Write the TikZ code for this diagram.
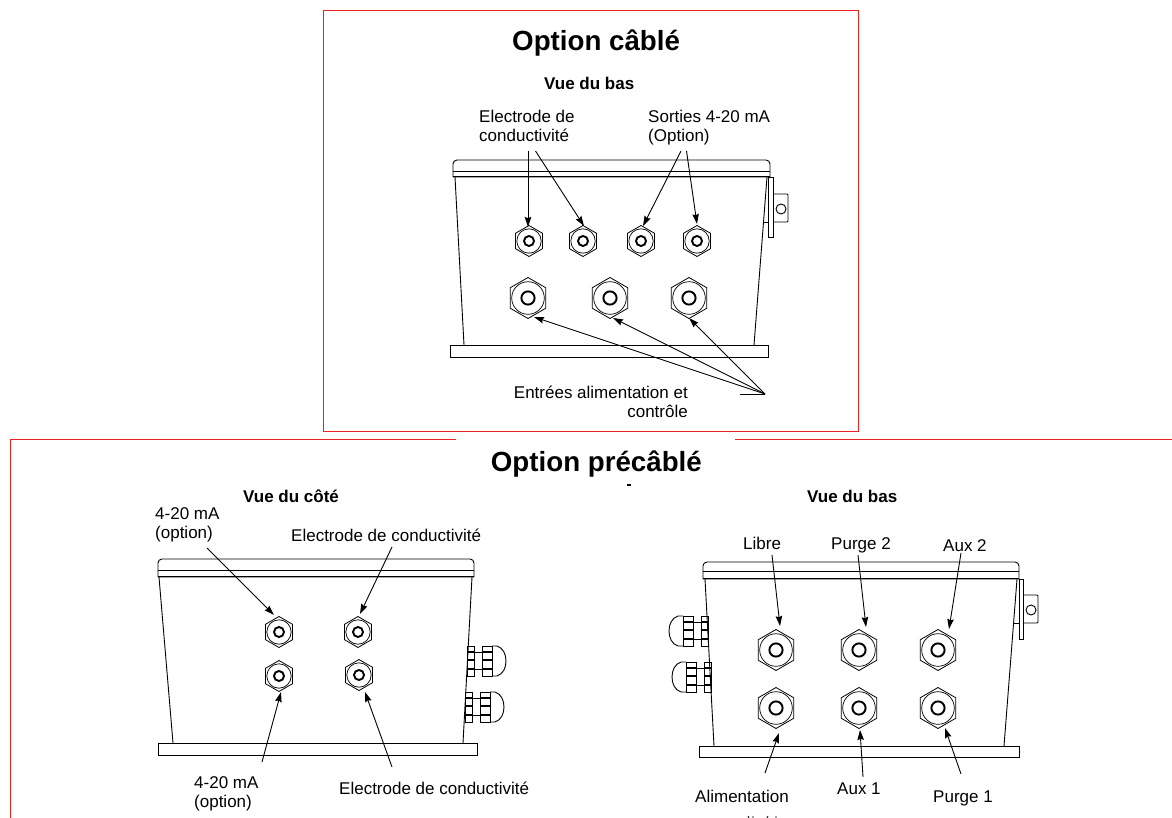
\documentclass[tikz,border=0pt]{standalone}
\usepackage{fontspec}
\setmainfont{Liberation Sans}
\usetikzlibrary{arrows.meta,shapes.geometric}
\definecolor{frameRed}{rgb}{0.93,0.13,0.13}
\tikzset{
  part/.style={draw=black,line width=0.9pt},
  frameline/.style={draw=frameRed,line width=1.1pt},
  arr/.style={draw=black,line width=0.9pt,-{Stealth[length=10pt,width=6.5pt,inset=1.2pt]}},
  lab/.style={inner sep=0pt,anchor=base west,font=\fontsize{17}{19}\selectfont,align=left},
  sub/.style={inner sep=0pt,anchor=base west,font=\fontsize{17}{19}\selectfont\bfseries},
  ttl/.style={inner sep=0pt,anchor=base west,font=\fontsize{27.7}{30}\selectfont\bfseries},
  glandS/.style={regular polygon,regular polygon sides=6,regular polygon rotate=30,draw=black,line width=0.8pt,minimum size=31pt,inner sep=0pt,
    path picture={
      \draw[line width=0.7pt] (path picture bounding box.center) circle (12.2pt);
      \draw[line width=1.9pt] (path picture bounding box.center) circle (5pt);}},
  glandB/.style={regular polygon,regular polygon sides=6,regular polygon rotate=30,draw=black,line width=0.8pt,minimum size=41pt,inner sep=0pt,
    path picture={
      \draw[line width=0.7pt] (path picture bounding box.center) circle (16.3pt);
      \draw[line width=1.9pt] (path picture bounding box.center) circle (6.6pt);}},
}
\newcommand{\cablegland}[3]{%
  \begin{scope}[shift={(#1,#2)},xscale=#3]
    \draw[part] (0,0) rectangle (7,30);
    \draw[part,line width=1.1pt] (0,6) -- (7,6) (0,14) -- (7,14) (0,23) -- (7,23);
    \draw[part] (7,6) rectangle (15,23);
    \draw[part] (15,0) rectangle (25,30);
    \draw[part,line width=1.4pt] (15,6) -- (25,6) (15,14) -- (25,14) (15,23) -- (25,23);
    \draw[part] (25,0) -- (30,0) .. controls (36,2) and (39,8) .. (39,15) .. controls (39,22) and (36,28) .. (30,30) -- (25,30);
  \end{scope}}
\begin{document}
\begin{tikzpicture}[x=1pt,y=-1pt]
\useasboundingbox (0,0) rectangle (1172,818);
% red frames
\draw[frameline] (323.5,10.5) rectangle (858.5,431.5);
\draw[frameline] (456,439.5) -- (10.5,439.5) -- (10.5,818);
\draw[frameline] (735,439.5) -- (1172,439.5);
% titles
\node[ttl] (t1) at (512,51) {Option câblé};
\node[ttl,anchor=base east] (t2) at (702,471) {Option précâblé};
\node[sub] (v1) at (544,90) {Vue du bas};
\node[sub] (v2) at (243,502) {Vue du côté};
\node[sub] (v3) at (807,502) {Vue du bas};
% fragments of hidden text
\fill (626.5,484) rectangle (630.5,486);
\draw[line width=0.8pt] (748,816) -- (749,818) (753,816) -- (753,818) (768,816) -- (767,818) (776,816) -- (776,818);
% top enclosure
\draw[part] (453,177) [rounded corners=4pt] -- (453,160) -- (770,160) [sharp corners] -- (770,177) -- cycle;
\draw[part] (453,171) -- (770,171);
\draw[part] (453,176) -- (770,176);
\draw[part] (455,177) -- (464,345);
\draw[part] (767,177) -- (754,345);
\draw[part] (450,345) rectangle (768,357);
\draw[part] (768,177) rectangle (773,237);
\draw[part] (763,222) -- (768,222);
\draw[part,rounded corners=1pt] (773,194) -- (788,194) -- (788,222) -- (773,222);
\draw[part] (781,209) circle (5);
\node[glandS] (g1) at (529,241) {};
\node[glandS] (g2) at (583,241) {};
\node[glandS] (g3) at (641,241) {};
\node[glandS] (g4) at (697,241) {};
\node[glandB] (h1) at (528,298) {};
\node[glandB] (h2) at (610,298) {};
\node[glandB] (h3) at (689,298) {};
\node[lab,anchor=north west] (a1) at (479,109.5) {Electrode de\\conductivité};
\node[lab,anchor=north west] (a2) at (648,109.5) {Sorties 4-20 mA\\(Option)};
\node[lab,anchor=north east,align=right] (a3) at (688,386) {Entrées alimentation et\\contrôle};
\coordinate (s1) at (528,151);
\coordinate (s2) at (535.5,151);
\coordinate (s3) at (681,151);
\coordinate (s4) at (686.5,151);
\coordinate (conv) at (765,394);
\coordinate (convb) at (740,394);
\draw[arr] (s1) -- ([shift={(-1,-14)}]g1.center);
\draw[arr] (s2) -- ([shift={(1,-15)}]g2.center);
\draw[arr] (s3) -- ([shift={(2,-15)}]g3.center);
\draw[arr] (s4) -- ([shift={(0,-17)}]g4.center);
\draw[part] (convb) -- (conv);
\draw[arr] (conv) -- ([shift={(6,19)}]h1.center);
\draw[arr] (conv) -- ([shift={(3,20)}]h2.center);
\draw[arr] (conv) -- ([shift={(0,20)}]h3.center);
% left enclosure
\draw[part] (158,577) [rounded corners=4pt] -- (158,559) -- (474,559) [sharp corners] -- (474,577) -- cycle;
\draw[part] (158,570) -- (474,570);
\draw[part] (158,576) -- (474,576);
\draw[part] (159,577) -- (173,743);
\draw[part] (472,577) -- (463,743);
\draw[part] (158,743) rectangle (477,755);
\node[glandS] (p1) at (279,632) {};
\node[glandS] (p2) at (358,632) {};
\node[glandS] (p3) at (279,676) {};
\node[glandS] (p4) at (359,675) {};
\cablegland{467}{646}{1}
\cablegland{465}{692}{1}
\node[lab,anchor=north west] (b1) at (155,507) {4-20 mA\\(option)};
\node[lab] (b2) at (291,541) {Electrode de conductivité};
\node[lab,anchor=north west] (b3) at (194,776) {4-20 mA\\(option)};
\node[lab] (b4) at (339,794) {Electrode de conductivité};
\coordinate (q1) at (207,548);
\coordinate (q2) at (392,547);
\coordinate (q3) at (262,762);
\coordinate (q4) at (392,767);
\draw[arr] (q1) -- ([shift={(-5,-17)}]p1.center);
\draw[arr] (q2) -- ([shift={(2,-18)}]p2.center);
\draw[arr] (q3) -- ([shift={(2,16)}]p3.center);
\draw[arr] (q4) -- ([shift={(6,17)}]p4.center);
% right enclosure
\draw[part] (703,579) [rounded corners=4pt] -- (703,562) -- (1019,562) [sharp corners] -- (1019,579) -- cycle;
\draw[part] (703,571.5) -- (1019,571.5);
\draw[part] (703,578) -- (1019,578);
\draw[part] (705,579) -- (714,746);
\draw[part] (1017,579) -- (1004,746);
\draw[part] (699,746) rectangle (1019,757);
\draw[part] (1019,579) rectangle (1023,639);
\draw[part] (1014,623) -- (1019,623);
\draw[part,rounded corners=1pt] (1023,595) -- (1038,595) -- (1038,623) -- (1023,623);
\draw[part] (1031,610) circle (5);
\node[glandB] (r1) at (776,650) {};
\node[glandB] (r2) at (859,650) {};
\node[glandB] (r3) at (938,650) {};
\node[glandB] (r4) at (776,708) {};
\node[glandB] (r5) at (859,708) {};
\node[glandB] (r6) at (938,708) {};
\cablegland{708}{616}{-1}
\cablegland{711}{662}{-1}
\node[lab] (c1) at (743,549) {Libre};
\node[lab] (c2) at (831,549) {Purge 2};
\node[lab] (c3) at (943,551) {Aux 2};
\node[lab] (c4) at (695,802) {Alimentation};
\node[lab] (c5) at (837,794) {Aux 1};
\node[lab] (c6) at (933,802) {Purge 1};
\coordinate (w1) at (772,555);
\coordinate (w2) at (858,555);
\coordinate (w3) at (961,553);
\coordinate (w4) at (765,773);
\coordinate (w5) at (863,777);
\coordinate (w6) at (961,774);
\draw[arr] (w1) -- ([shift={(4,-24)}]r1.center);
\draw[arr] (w2) -- ([shift={(7,-23)}]r2.center);
\draw[arr] (w3) -- ([shift={(11,-21)}]r3.center);
\draw[arr] (w4) -- ([shift={(3,25)}]r4.center);
\draw[arr] (w5) -- ([shift={(1,22)}]r5.center);
\draw[arr] (w6) -- ([shift={(7,20)}]r6.center);
\end{tikzpicture}
\end{document}
